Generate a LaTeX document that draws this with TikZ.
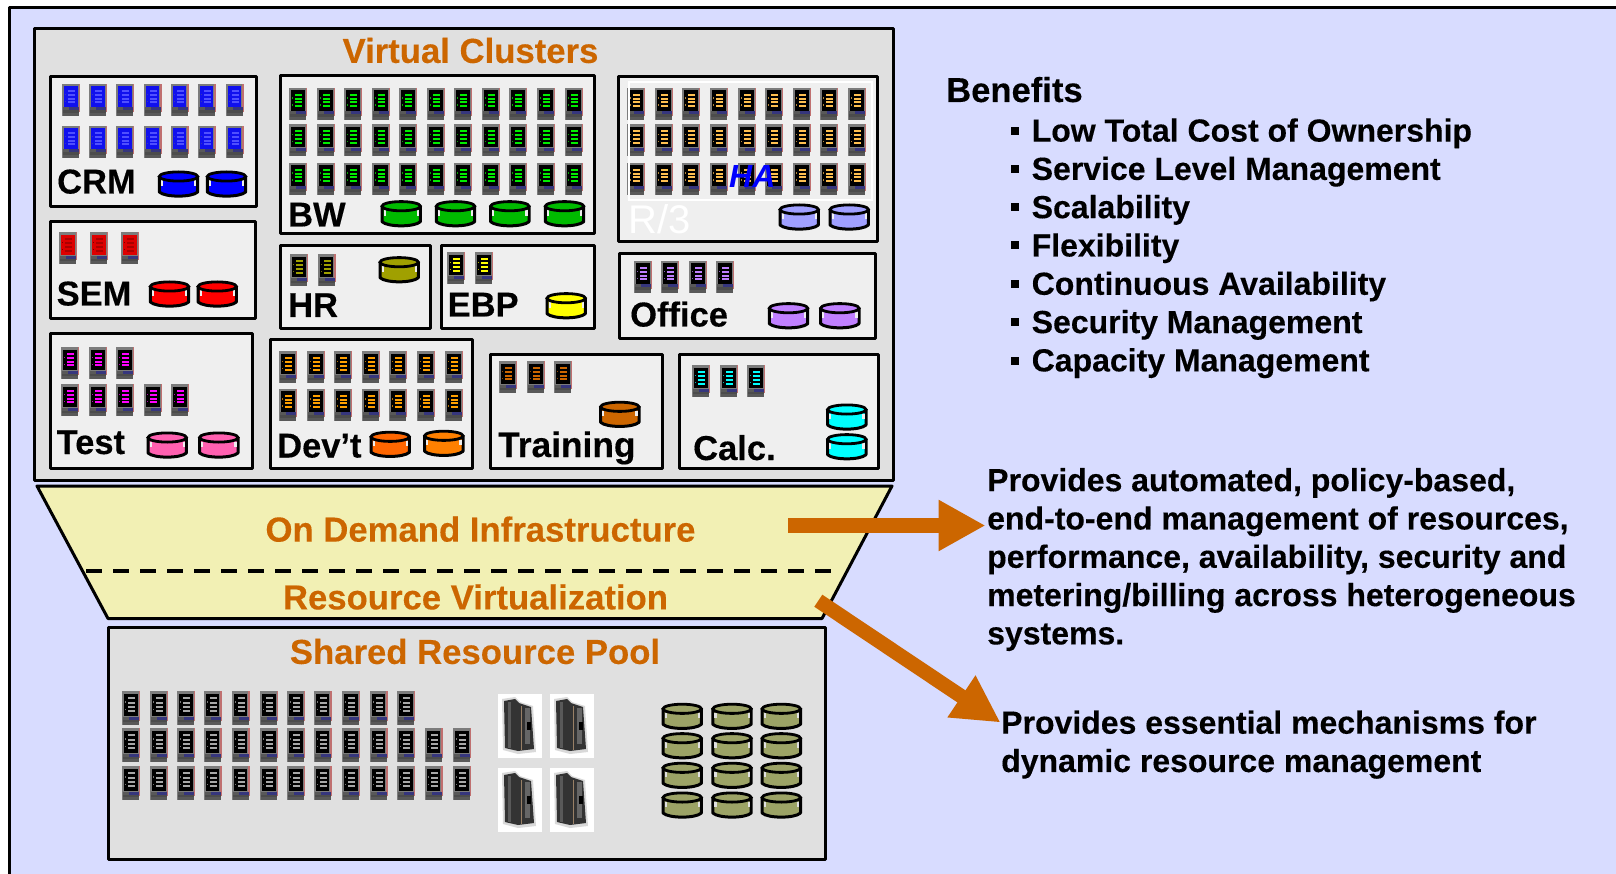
\documentclass[tikz,border=0pt]{standalone}
\usepackage{fontspec}
\setmainfont{Liberation Sans}[BoldFeatures={FakeBold=0.25}]
\usetikzlibrary{arrows.meta}
\definecolor{pagebg}{HTML}{D8DCFF}
\definecolor{panel}{HTML}{E0E0E0}
\definecolor{cell}{HTML}{EFEFEF}
\definecolor{sand}{HTML}{F2F0B4}
\definecolor{amber}{HTML}{CC6600}
\definecolor{olivegr}{HTML}{9CA366}
\definecolor{barsilver}{HTML}{A8A8A8}
\definecolor{purecyan}{HTML}{00FFFF}
\definecolor{puremag}{HTML}{FF00FF}
\definecolor{pureyel}{HTML}{FFFF00}
\definecolor{pink}{HTML}{FF60B0}
\definecolor{lilac}{HTML}{C080FF}
\definecolor{orngA}{HTML}{FF6600}
\definecolor{orngB}{HTML}{FF8000}
\definecolor{orngbar}{HTML}{FFA000}
\definecolor{oliv}{HTML}{A0A000}
\definecolor{greenD}{HTML}{00BB00}
\definecolor{greenB}{HTML}{00EE00}
\definecolor{periw}{HTML}{A0A0FF}
\definecolor{peach}{HTML}{FFC050}
\definecolor{blueS}{HTML}{1010EE}
\definecolor{blueB}{HTML}{5050FF}
\definecolor{redS}{HTML}{DD0000}
\definecolor{redB}{HTML}{AA0000}
\definecolor{edgeR}{HTML}{C07070}
\definecolor{frameG}{HTML}{7C7C7C}
\tikzset{
  panelbox/.style={draw=black,line width=3pt,fill=panel,line join=round},
  cellbox/.style={draw=black,line width=3pt,fill=cell,line join=round},
  headline/.style={anchor=center,inner sep=0pt,text=amber,font=\fontsize{34.7}{38}\selectfont\bfseries},
  cluster/.style={anchor=base west,inner sep=0pt,font=\fontsize{34.5}{38}\selectfont\bfseries},
  bodytext/.style={anchor=north west,inner sep=0pt,align=left,font=\fontsize{32}{38.3}\selectfont\bfseries},
  fatarrow/.style={draw=amber,line width=15.5pt}
}
% server icon: x, y (top left), height, screen colour, bar colour, top colour
\newcommand{\srvicon}[6]{%
  \begin{scope}[shift={(#1,#2+1)}]
    \fill[#6] (0,0) rectangle (16.5,#3);
    \fill[edgeR] (16.5,0) rectangle (18,#3-4);
    \fill[#4] (2,2.5) rectangle (15.5,#3-9);
    \foreach \b in {0.17,0.36,0.54,0.72}
      \fill[#5] (6,{2.5+(#3-11.5)*\b}) rectangle (13,{2.5+(#3-11.5)*\b+2});
    \fill[#5!70!black] (3,{#3*0.3}) rectangle (4,{#3*0.34});
    \fill[#5!70!black] (3,{#3*0.52}) rectangle (4,{#3*0.56});
    \fill[gray!70!black] (1,#3-8.5) rectangle (9,#3-5.5);
    \fill[blue!40!gray!70!black] (7,#3-8.5) rectangle (17,#3-5);
    \fill[black!70] (1,#3-5.5) rectangle (17,#3-3);
    \fill[gray!70!black] (1,#3-3) rectangle (17,#3);
  \end{scope}}
\newcommand{\srvrow}[5]{% list of x, y, screen, bar, height
  \foreach \px in {#1} {\srvicon{\px}{#2}{#5}{#3}{#4}{frameG}}}
\newcommand{\drumicon}[4]{% x, y, colour, background
  \begin{scope}[shift={(#1,#2)}]
    \filldraw[fill=#3,draw=black,line width=3pt,line join=round]
      (1.3,5.5) -- (1.3,21) .. controls (7,26.5) and (34,26.5) .. (39.7,21) -- (39.7,5.5) -- cycle;
    \fill[#4] (2.8,9.5) rectangle (5,15);
    \fill[#4] (36,9.5) rectangle (38.2,15);
    \filldraw[fill=#3,draw=black,line width=2.8pt] (20.5,5.5) ellipse [x radius=19.2,y radius=4.6];
  \end{scope}}
\newcommand{\towericon}[2]{%
  \begin{scope}[shift={(#1,#2)}]
    \fill[white] (0,0) rectangle (44,64);
    \fill[gray!30] (4,5) -- (17,3) -- (22,8) -- (35,12) -- (38,58) -- (20,60) -- (5,56) -- cycle;
    \fill[black!80] (6,7) -- (17,5) -- (21,9) -- (33,13) -- (36,55) -- (20,57) -- (7,54) -- cycle;
    \fill[gray!70!black] (10,8) rectangle (13,54);
    \fill[gray!60!brown] (23,12) rectangle (24,56);
    \fill[black!60] (27,14) rectangle (32,50);
    \fill[black] (29,28) rectangle (33,36);
  \end{scope}}
\begin{document}
\begin{tikzpicture}[x=1pt,y=-1pt]
\useasboundingbox (0,0) rectangle (1616,874);
\fill[white] (0,0) rectangle (1616,874);
\fill[pagebg] (10,8) rectangle (1616,874);
\draw[line width=3.4pt,line join=round] (9.5,874) -- (9.5,7.5) -- (1616,7.5);

% Virtual clusters panel
\draw[panelbox] (34.5,28.5) rectangle (893.5,480);
\node[headline] (vc) at (470.5,50.5) {Virtual Clusters};

\draw[cellbox] (50,77) rectangle (256,207);
\draw[cellbox] (50,222) rectangle (255,319);
\draw[cellbox] (50,333.5) rectangle (252.5,468);
\draw[cellbox] (270,340) rectangle (472.5,468);
\draw[cellbox] (280.5,76) rectangle (594,234);
\draw[cellbox] (280,246) rectangle (430,329);
\draw[cellbox] (441,246) rectangle (594,329);
\draw[cellbox] (618,76.5) rectangle (877,242);
\draw[cellbox] (619,254) rectangle (875.5,339);
\draw[cellbox] (490,354) rectangle (662,468);
\draw[cellbox] (679,354) rectangle (878,468);

% servers
\foreach \py in {83,125}
  {\srvrow{62.3,89.3,116.3,143.5,170.5,197.5,225.5}{\py}{blueS}{blueB}{32}}
\srvrow{59,90.3,121.3}{231.3}{redS}{redB}{32}
\srvrow{61.3,89.3,116.3}{346}{black}{puremag}{32}
\srvrow{61.3,89.3,116.3,144.3,171.3}{383}{black}{puremag}{32}
\foreach \py in {350.3,387.7}
  {\srvrow{279.3,307.3,334.3,362.3,389.3,417.3,445.3}{\py}{black}{orngbar}{32}}
\foreach \py in {86.7,123.3,161.7}
  {\srvrow{289.3,317.3,344.3,372.3,399.3,427.3,454.3,482.3,509.3,537.3,565.3}{\py}{black}{greenB}{32}}
\foreach \py in {86.7,123.3,161.7}
  {\srvrow{627.3,655.3,682.3,710.3,738.3,765.3,793.3,820.3,848.3}{\py}{black}{peach}{32}}
\srvrow{290.3,317.7}{253.3}{black}{oliv}{32}
\srvrow{447.3,475}{251.3}{black}{pureyel}{32}
\srvrow{634,661,689,716}{260}{black}{lilac}{32}
\srvrow{499,527,554}{360}{black}{amber}{32}
\srvrow{692,720,747}{364.3}{black}{purecyan}{32}

% R/3 frame and labels
\draw[white,line width=2pt] (628.5,82.5) rectangle (871.5,200);
\node[anchor=base west,inner sep=0pt,text=white,font=\fontsize{40}{44}\selectfont] (r3) at (628,234) {R/3};
\node[anchor=base west,inner sep=0pt,text=blue,font=\fontsize{32}{36}\selectfont\bfseries\itshape] (ha) at (729,188) {HA};

% drums
\drumicon{158}{171}{blue}{cell}
\drumicon{206}{171}{blue}{cell}
\drumicon{149}{281}{red}{cell}
\drumicon{196.7}{281}{red}{cell}
\drumicon{146.7}{432}{pink}{cell}
\drumicon{198.3}{432}{pink}{cell}
\drumicon{369.7}{431.3}{orngA}{cell}
\drumicon{423.3}{430.3}{orngB}{cell}
\drumicon{378.7}{256.7}{oliv}{cell}
\foreach \dx in {380.7,435,489.3,544}
  {\drumicon{\dx}{200.7}{greenD}{cell}}
\drumicon{778.7}{204}{periw}{cell}
\drumicon{828.7}{204}{periw}{cell}
\drumicon{545.7}{292.7}{pureyel}{cell}
\drumicon{768}{302.7}{lilac}{cell}
\drumicon{819.3}{302.7}{lilac}{cell}
\drumicon{599.3}{401.3}{amber}{cell}
\drumicon{826.3}{404}{purecyan}{cell}
\drumicon{826.3}{433.7}{purecyan}{cell}

% cell labels
\node[cluster] (crm) at (57,193.5) {CRM};
\node[cluster] (sem) at (56.5,305.5) {SEM};
\node[cluster] (test) at (56.5,454) {Test};
\node[cluster] (dev) at (277,457.5) {Dev't};
\node[cluster] (bw) at (288,226.5) {BW};
\node[cluster] (hr) at (288,317) {HR};
\node[cluster] (ebp) at (447.5,316.5) {EBP};
\node[cluster] (office) at (630,326.5) {Office};
\node[cluster,font=\fontsize{35.3}{38}\selectfont\bfseries] (training) at (498,457) {Training};
\node[cluster] (calc) at (693,460) {Calc.};

% funnel
\path[fill=sand,draw=black,line width=3pt,line join=round]
  (37,486) -- (892,486) -- (822,618.5) -- (108,618.5) -- cycle;
\coordinate (dashl) at (86,571);
\coordinate (dashr) at (835,571);
\draw[line width=3.4pt,dash pattern=on 16pt off 11pt] (dashl) -- (dashr);
\node[headline] (odi) at (480.5,529.2) {On Demand Infrastructure};
\node[headline] (rv) at (475.5,597) {Resource Virtualization};

% shared pool
\draw[panelbox] (108,627) rectangle (825,859);
\node[headline] (srp) at (475,651.5) {Shared Resource Pool};
\srvrow{122,150.2,177,203.8,231.6,260.3,287,313.9,342.1,369.9,397.1}{690}{black}{barsilver}{34}
\foreach \py in {727,765}
  {\srvrow{122,150.2,177,203.8,231.6,260.3,287,313.9,342.1,369.9,397.1,424.9,453.1}{\py}{black}{barsilver}{34}}
\towericon{498}{694}
\towericon{550}{694}
\towericon{498}{768}
\towericon{550}{768}
\foreach \dy in {703.3,732.7,762.3,792}
  {\foreach \dx in {661.7,711.5,760.8}
    {\drumicon{\dx}{\dy}{olivegr}{panel}}}

% arrows
\coordinate (a1s) at (788,525.5);
\coordinate (a1e) at (985.5,525.5);
\coordinate (a2s) at (818.3,600.7);
\coordinate (a2e) at (1000.5,722.5);
\draw[fatarrow,-{Triangle[length=47pt,width=48pt,fill=amber]}] (a1s) -- (a1e);
\draw[fatarrow,line width=14.5pt,-{Triangle[length=47pt,width=47pt,fill=amber]}] (a2s) -- (a2e);

% benefits
\node[anchor=base west,inner sep=0pt,font=\fontsize{34.6}{38.3}\selectfont\bfseries] (ben) at (946,102) {Benefits};
\node[bodytext] (list) at (1031.5,118.2) {Low Total Cost of Ownership\\Service Level Management\\Scalability\\Flexibility\\Continuous Availability\\Security Management\\Capacity Management};
\foreach \by in {131,169,207,245.5,284,322.5,361}
  \fill (1010.5,\by-4) rectangle (1019,\by+4);
\node[bodytext] (p1) at (987,467.8) {Provides automated, policy-based,\\end-to-end management of resources,\\performance, availability, security and\\metering/billing across heterogeneous\\systems.};
\node[bodytext] (p2) at (1001,710.3) {Provides essential mechanisms for\\dynamic resource management};
\end{tikzpicture}
\end{document}
